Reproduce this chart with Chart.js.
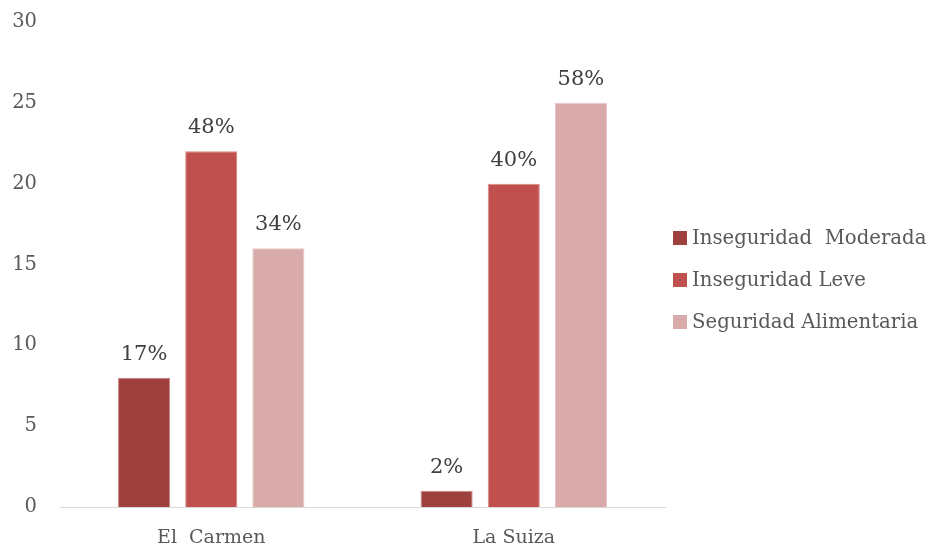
<!DOCTYPE html>
<html>
<head>
<meta charset="utf-8">
<script src="https://cdn.jsdelivr.net/npm/chart.js@4/dist/chart.umd.min.js"></script>
<style>
  html, body { margin: 0; padding: 0; background: #fff; }
  #wrap { width: 930px; height: 548px; }
</style>
</head>
<body>
<div id="wrap"><canvas id="myChart" width="930" height="548"></canvas></div>
<script>
const categories = ['El  Carmen', 'La Suiza'];
const seriesNames = ['Inseguridad  Moderada', 'Inseguridad Leve', 'Seguridad Alimentaria'];
const moderada = [8, 1];
const leve = [22, 20];
const alimentaria = [16, 25];
const moderadaLabels = ['17%', '2%'];
const leveLabels = ['48%', '40%'];
const alimentariaLabels = ['34%', '58%'];
const yTicks = [0, 5, 10, 15, 20, 25, 30];

const fontFamily = "'DejaVu Serif', 'Liberation Serif', serif";

// percentage text above each bar
const barLabels = {
    id: 'barLabels',
    afterDatasetsDraw(chart) {
        const ctx = chart.ctx;
        ctx.save();
        ctx.font = '21px ' + fontFamily;
        ctx.fillStyle = '#404040';
        ctx.textAlign = 'center';
        ctx.textBaseline = 'bottom';
        chart.data.datasets.forEach((ds, i) => {
            chart.getDatasetMeta(i).data.forEach((bar, j) => {
                ctx.fillText(ds.pctLabels[j], bar.x, bar.y - 13);
            });
        });
        ctx.restore();
    }
};

// legend drawn to the right of the plot, square swatches
const sideLegend = {
    id: 'sideLegend',
    afterDraw(chart) {
        const ctx = chart.ctx;
        const left = chart.chartArea.right + 8;
        const firstY = 238;
        const step = 42;
        ctx.save();
        ctx.font = '19.7px ' + fontFamily;
        ctx.textBaseline = 'middle';
        ctx.textAlign = 'left';
        chart.data.datasets.forEach((ds, i) => {
            const y = firstY + i * step;
            ctx.fillStyle = ds.backgroundColor;
            ctx.fillRect(left, y - 7, 14, 14);
            ctx.fillStyle = '#595959';
            ctx.fillText(ds.label, left + 19, y + 1);
        });
        ctx.restore();
    }
};

const ctx = document.getElementById('myChart').getContext('2d');
const chart = new Chart(ctx, {
    type: 'bar',
    data: {
        labels: categories,
        datasets: [{
            label: seriesNames[0],
            data: moderada,
            pctLabels: moderadaLabels,
            backgroundColor: '#9E403C',
            borderColor: '#C98784',
            borderWidth: 1
        }, {
            label: seriesNames[1],
            data: leve,
            pctLabels: leveLabels,
            backgroundColor: '#C0504D',
            borderColor: '#D98986',
            borderWidth: 1
        }, {
            label: seriesNames[2],
            data: alimentaria,
            pctLabels: alimentariaLabels,
            backgroundColor: '#D9AAAA',
            borderColor: '#E8C4C3',
            borderWidth: 1
        }]
    },
    options: {
        responsive: false,
        animation: false,
        categoryPercentage: 0.666,
        barPercentage: 0.776,
        layout: {
            padding: { top: 22, right: 265, bottom: 0, left: 0 }
        },
        plugins: {
            legend: { display: false },
            tooltip: { enabled: false }
        },
        scales: {
            x: {
                grid: { display: false, drawTicks: false },
                border: { color: '#D9D9D9', width: 1 },
                afterFit(scale) { scale.height = 41; },
                ticks: {
                    color: '#595959',
                    padding: 20,
                    font: { family: fontFamily, size: 19 }
                }
            },
            y: {
                min: 0,
                max: 30,
                afterBuildTicks(axis) {
                    axis.ticks = yTicks.map(v => ({ value: v }));
                },
                afterFit(scale) {
                    scale.width = 60;
                    scale.paddingTop = 0;
                    scale.paddingBottom = 0;
                },
                grid: { display: false, drawTicks: false },
                border: { display: false },
                ticks: {
                    color: '#595959',
                    padding: 23,
                    font: { family: fontFamily, size: 19.5 }
                }
            }
        }
    },
    plugins: [barLabels, sideLegend]
});
</script>
</body>
</html>
